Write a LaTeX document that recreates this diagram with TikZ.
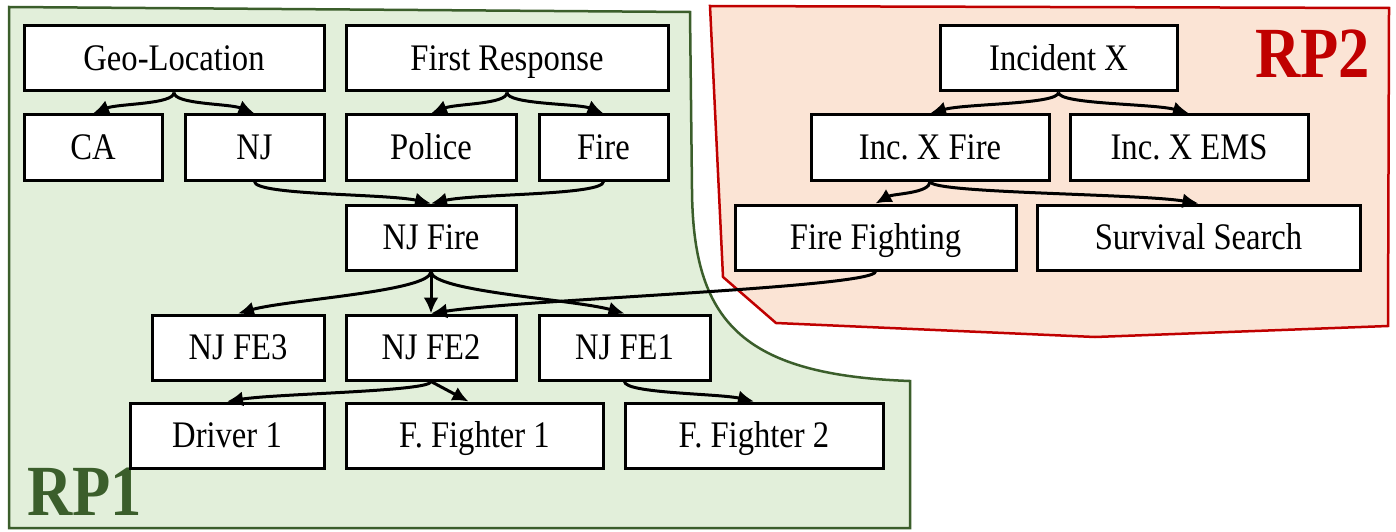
\documentclass[tikz,border=0pt]{standalone}
\usepackage{fontspec}
\setmainfont{Liberation Serif}[FakeStretch=0.87]
\usetikzlibrary{arrows.meta}
\definecolor{gfill}{HTML}{E2EFDA}
\definecolor{gline}{HTML}{3B5E2B}
\definecolor{rfill}{HTML}{FBE4D5}
\definecolor{rline}{HTML}{C00000}
\frenchspacing
\begin{document}
\begin{tikzpicture}[x=1pt,y=-1pt,
  box/.style={draw=black, line width=3pt, fill=white, minimum height=65pt, inner sep=0pt, text height=24.5pt, text depth=0pt, font=\fontsize{37.5}{39}\selectfont},
  conn/.style={line width=3pt, -{Latex[length=16pt,width=15pt]}},
  region/.style={line width=2.5pt},
  rplabel/.style={anchor=base west, inner sep=0pt, font=\fontsize{72}{72}\selectfont\bfseries}]
\useasboundingbox (0,0) rectangle (1396,532);
% regions
\draw[region, draw=gline, fill=gfill] (9,7) -- (690,12) -- (692,190) .. controls (693,320) and (740,375) .. (910,381) -- (910,528) -- (9,528) -- cycle;
\draw[region, draw=rline, fill=rfill] (710,6) -- (1389,8) -- (1388,326) -- (1095,337) -- (776,323) -- (723,277) -- cycle;
\node[rplabel, text=rline] (rp2) at (1255,78) {RP2};
\node[rplabel, text=gline] (rp1) at (27,515) {RP1};
% boxes RP1
\node[box, minimum width=300pt] (geo) at (174,58.5) {Geo-Location};
\node[box, minimum width=322pt] (fr) at (507,58.5) {First Response};
\node[box, minimum width=138pt] (ca) at (93,147.5) {CA};
\node[box, minimum width=139pt] (nj) at (254.5,147.5) {NJ};
\node[box, minimum width=170pt] (police) at (431,147.5) {Police};
\node[box, minimum width=129pt] (fire) at (603.5,147.5) {Fire};
\node[box, minimum width=170pt] (njfire) at (431,237.5) {NJ Fire};
\node[box, minimum width=172pt] (fe3) at (238,347.5) {NJ FE3};
\node[box, minimum width=170pt] (fe2) at (431,347.5) {NJ FE2};
\node[box, minimum width=171pt] (fe1) at (624.5,347.5) {NJ FE1};
\node[box, minimum width=194pt] (drv) at (227,435.5) {Driver 1};
\node[box, minimum width=257pt] (ff1) at (474.5,435.5) {F. Fighter 1};
\node[box, minimum width=258pt] (ff2) at (754,435.5) {F. Fighter 2};
% boxes RP2
\node[box, minimum width=237pt] (incx) at (1058.5,58.5) {Incident X};
\node[box, minimum width=238pt] (ixfire) at (930,147.5) {Inc. X Fire};
\node[box, minimum width=238pt] (ixems) at (1189,147.5) {Inc. X EMS};
\node[box, minimum width=281pt] (fight) at (875.5,237.5) {Fire Fighting};
\node[box, minimum width=323pt] (surv) at (1198.5,237.5) {Survival Search};
% connectors
\draw[conn] (geo.south) .. controls +(0,12) and +(25,-10) .. (ca.north);
\draw[conn] (geo.south) .. controls +(0,12) and +(-25,-10) .. (nj.north);
\draw[conn] (fr.south) .. controls +(0,12) and +(25,-10) .. (police.north);
\draw[conn] (fr.south) .. controls +(0,12) and +(-25,-10) .. (fire.north);
\draw[conn] (nj.south) .. controls +(0,14) and +(-45,-10) .. (njfire.north);
\draw[conn] (fire.south) .. controls +(0,14) and +(45,-10) .. (njfire.north);
\draw[conn] (njfire.south) .. controls +(0,20) and +(50,-14) .. (fe3.north);
\draw[conn] (njfire.south) -- (fe2.north);
\draw[conn] (njfire.south) .. controls +(0,20) and +(-50,-14) .. (fe1.north);
\draw[conn] (fight.south) .. controls +(0,16) and +(90,-14) .. (fe2.north);
\draw[conn] (fe2.south) .. controls +(0,10) and +(50,-8) .. (drv.north);
\draw[conn] (fe2.south) -- ([xshift=-6pt]ff1.north);
\draw[conn] (fe1.south) .. controls +(0,12) and +(-35,-8) .. (ff2.north);
\draw[conn] (incx.south) .. controls +(0,12) and +(35,-10) .. (ixfire.north);
\draw[conn] (incx.south) .. controls +(0,12) and +(-35,-10) .. (ixems.north);
\draw[conn] (ixfire.south) .. controls +(0,12) and +(18,-10) .. (fight.north);
\draw[conn] (ixfire.south) .. controls +(0,12) and +(-60,-10) .. (surv.north);
\end{tikzpicture}
\end{document}
